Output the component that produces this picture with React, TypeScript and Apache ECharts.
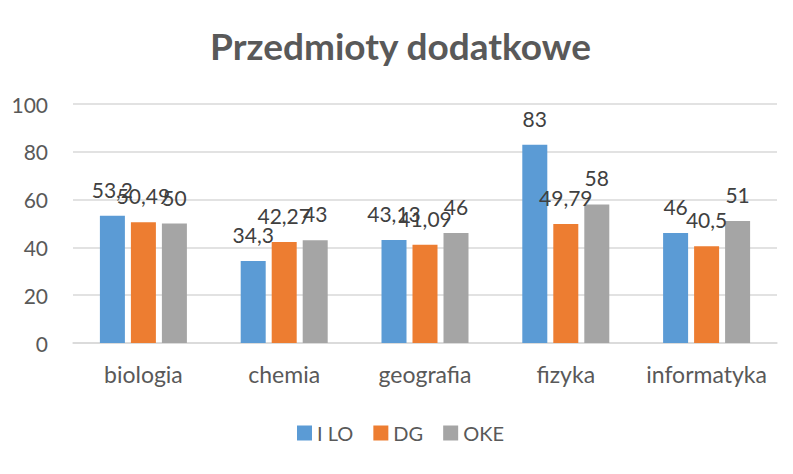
import React, { useEffect, useRef } from "react";
import * as echarts from "echarts";

const categories = ["biologia", "chemia", "geografia", "fizyka", "informatyka"];
const seriesNames = ["I LO", "DG", "OKE"];
const iLoValues = [53.2, 34.3, 43.13, 83, 46];
const dgValues = [50.49, 42.27, 41.09, 49.79, 40.5];
const okeValues = [50, 43, 46, 58, 51];
const colors = ["#5B9BD5", "#ED7D31", "#A5A5A5"];
const yTicks = { min: 0, max: 100, interval: 20 };

export default function App() {
  const ref = useRef<HTMLDivElement>(null);
  useEffect(() => {
    if (!ref.current) return;
    const chart = echarts.init(ref.current, null, { renderer: "svg" });
    const font = "Lato, 'Open Sans', sans-serif";
    const mk = (name: string, data: number[], color: string) => ({
      name,
      type: "bar",
      data,
      barWidth: 25,
      barGap: "24%",
      itemStyle: { color },
      label: {
        show: true,
        position: "top",
        distance: 16,
        color: "#404040",
        fontSize: 21,
        fontFamily: font,
        formatter: (p: any) => String(p.value).replace(".", ","),
      },
    });
    chart.setOption({
      animation: false,
      textStyle: { fontFamily: font },
      title: {
        text: "Przedmioty dodatkowe",
        left: "center",
        top: 14,
        textStyle: { fontSize: 37, fontWeight: "bold", color: "#595959", fontFamily: font },
      },
      legend: {
        data: seriesNames,
        top: 410,
        left: "center",
        itemWidth: 15,
        itemHeight: 15,
        itemGap: 20,
        icon: "rect",
        textStyle: { fontSize: 20, color: "#595959", fontFamily: font },
      },
      grid: { left: 65, right: 16, top: 96, bottom: 131, containLabel: false },
      xAxis: {
        type: "category",
        data: categories,
        axisLine: { lineStyle: { color: "#D9D9D9", width: 1.5 } },
        axisTick: { show: false },
        axisLabel: { color: "#595959", fontSize: 23, margin: 19, interval: 0, fontFamily: font },
      },
      yAxis: {
        type: "value",
        min: yTicks.min,
        max: yTicks.max,
        interval: yTicks.interval,
        axisLine: { show: false },
        axisTick: { show: false },
        axisLabel: { color: "#595959", fontSize: 21, margin: 25, fontFamily: font },
        splitLine: { lineStyle: { color: "#D9D9D9", width: 1.5 } },
      },
      series: [
        mk(seriesNames[0], iLoValues, colors[0]),
        mk(seriesNames[1], dgValues, colors[1]),
        mk(seriesNames[2], okeValues, colors[2]),
      ],
    });
    return () => chart.dispose();
  }, []);
  return <div ref={ref} style={{ width: 785, height: 466 }} />;
}
